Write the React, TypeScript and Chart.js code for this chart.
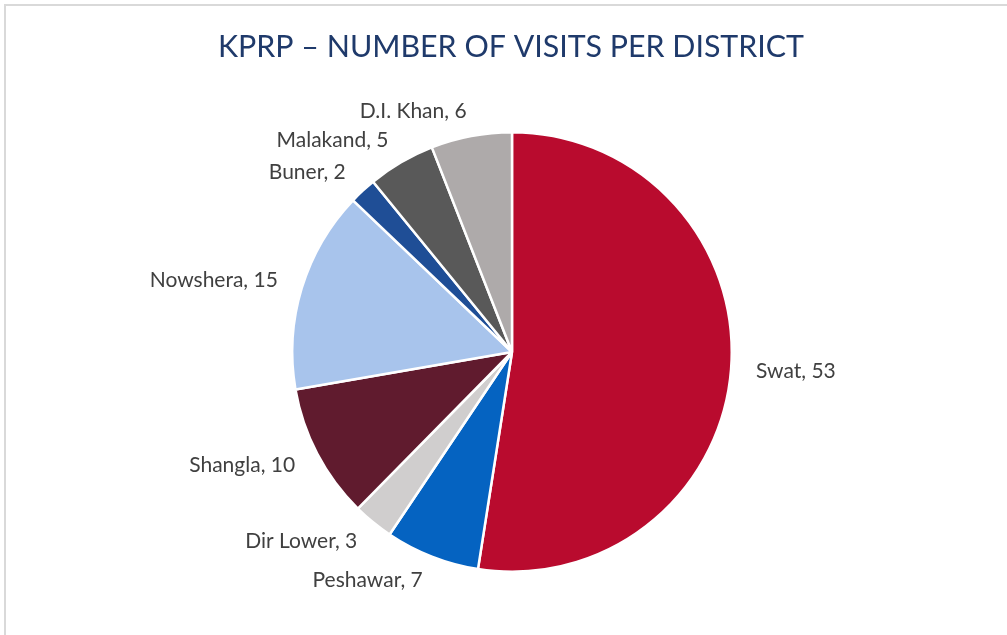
import React, { useEffect, useRef } from "react";
import { Chart, registerables } from "chart.js";

Chart.register(...registerables);

const districts = ["Swat", "Peshawar", "Dir Lower", "Shangla", "Nowshera", "Buner", "Malakand", "D.I. Khan"];
const visits = [53, 7, 3, 10, 15, 2, 5, 6];
const sliceColors = ["#B90B2E", "#0563C1", "#D0CECE", "#601B2E", "#A8C4EC", "#1F4E96", "#595959", "#AEAAAA"];
const chartTitle = "KPRP \u2013 NUMBER OF VISITS PER DISTRICT";

const W = 1007;
const H = 635;

const overlayPlugin = {
  id: "overlay",
  afterDraw(chart: any) {
    const ctx = chart.ctx as CanvasRenderingContext2D;
    // title
    ctx.save();
    ctx.font = "31px Lato";
    ctx.fillStyle = "#1F3A6B";
    ctx.textBaseline = "alphabetic";
    ctx.textAlign = "left";
    const tw = ctx.measureText(chartTitle).width;
    const target = 586;
    const sx = target / tw;
    ctx.translate(218, 57);
    ctx.scale(sx, 1);
    ctx.fillText(chartTitle, 0, 0);
    ctx.restore();

    // labels
    const meta = chart.getDatasetMeta(0);
    ctx.save();
    ctx.font = "21px Lato";
    ctx.fillStyle = "#404040";
    ctx.textBaseline = "middle";
    meta.data.forEach((arc: any, i: number) => {
      const p = arc.getProps(["x", "y", "startAngle", "endAngle", "outerRadius"], true);
      const mid = (p.startAngle + p.endAngle) / 2;
      const dx = Math.cos(mid);
      const dy = Math.sin(mid);
      const r = p.outerRadius + 25;
      const ax = p.x + dx * r;
      const ay = p.y + dy * r;
      ctx.textAlign = dx < 0 ? "right" : "left";
      ctx.fillText(`${districts[i]}, ${visits[i]}`, ax, ay);
    });
    ctx.restore();
  },
};

export default function App() {
  const ref = useRef<HTMLCanvasElement>(null);
  useEffect(() => {
    if (!ref.current) return;
    const chart = new Chart(ref.current, {
      type: "pie",
      data: {
        labels: districts,
        datasets: [
          {
            data: visits,
            backgroundColor: sliceColors,
            borderColor: "#FFFFFF",
            borderWidth: 2.5,
          },
        ],
      },
      options: {
        responsive: false,
        animation: false,
        layout: { padding: { top: 131, bottom: 62, left: 291, right: 274 } },
        plugins: {
          legend: { display: false },
          title: { display: false },
          tooltip: { enabled: false },
        },
      },
      plugins: [overlayPlugin],
    });
    return () => chart.destroy();
  }, []);

  return (
    <div style={{ position: "fixed", left: 0, top: 0, width: W, height: H, background: "#fff", overflow: "hidden" }}>
      <div
        style={{
          position: "absolute",
          left: 4,
          top: 4,
          width: W + 20,
          height: H + 20,
          borderTop: "2px solid #D9D9D9",
          borderLeft: "2px solid #D9D9D9",
        }}
      />
      <canvas ref={ref} width={W} height={H} style={{ position: "absolute", left: 0, top: 0, width: W, height: H }} />
    </div>
  );
}
